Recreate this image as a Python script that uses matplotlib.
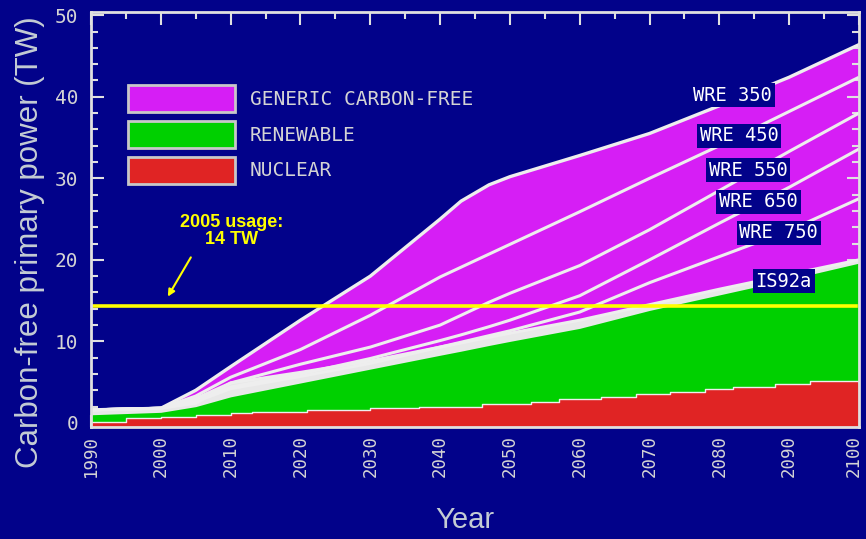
import matplotlib
matplotlib.use("Agg")
import matplotlib.pyplot as plt
from matplotlib.patches import Rectangle
from matplotlib.transforms import ScaledTranslation

# ---------------- data ----------------
years = [1990, 2000, 2005, 2010, 2020, 2030, 2040, 2043, 2047, 2050, 2060, 2070, 2080, 2090, 2100]
wre350 = [1.6, 1.8, 4.0, 6.9, 12.6, 18.0, 25.0, 27.2, 29.2, 30.2, 32.8, 35.5, 38.9, 42.4, 46.4]
wre450 = [1.6, 1.8, 3.3, 5.6, 9.0, 13.2, 17.9, 19.1, 20.7, 21.9, 25.9, 30.0, 34.0, 38.2, 42.4]
wre550 = [1.6, 1.8, 3.0, 4.9, 7.2, 9.3, 12.0, 13.2, 14.8, 15.9, 19.3, 23.7, 28.5, 33.3, 38.0]
wre650 = [1.6, 1.8, 2.8, 4.4, 6.0, 7.9, 10.1, 10.8, 11.8, 12.6, 15.6, 20.0, 24.5, 28.9, 33.6]
wre750 = [1.6, 1.8, 2.6, 4.2, 5.7, 7.3, 9.3, 9.9, 10.7, 11.3, 13.6, 17.2, 20.4, 23.6, 27.5]
is92a = [1.6, 1.8, 2.4, 4.9, 6.2, 7.6, 9.3, 9.8, 10.5, 11.0, 12.6, 14.5, 16.4, 18.2, 20.0]
renewable_top = [1.0, 1.3, 2.0, 3.2, 4.9, 6.6, 8.3, 8.8, 9.5, 10.0, 11.6, 13.8, 15.7, 17.6, 19.6]

nuc_years = [1990, 1995, 2000, 2005, 2010, 2013, 2021, 2030, 2037, 2046, 2053, 2057,
             2063, 2068, 2073, 2078, 2082, 2088, 2093, 2100]
nuclear = [0.16, 0.57, 0.75, 0.95, 1.2, 1.3, 1.6, 1.8, 2.0, 2.3, 2.6, 2.9,
           3.2, 3.6, 3.8, 4.1, 4.4, 4.8, 5.1, 5.1]

scenario_labels = ["WRE 350", "WRE 450", "WRE 550", "WRE 650", "WRE 750", "IS92a"]
label_x = [2081.9, 2082.8, 2084.1, 2085.6, 2088.5, 2089.2]
label_y = [40.2, 35.2, 31.0, 27.1, 23.3, 17.4]

legend_labels = ["GENERIC CARBON-FREE", "RENEWABLE", "NUCLEAR"]

usage_level = 14.4
usage_span = [1990, 2099.6]
usage_text = "2005 usage:\n14 TW"

x_ticks = list(range(1990, 2101, 10))
y_ticks = list(range(0, 51, 10))

# ---------------- style ----------------
NAVY = "#02028a"
MAGENTA = "#d61ef5"
GREEN = "#00d000"
RED = "#e02424"
BAND = "#e8e8e8"
LINE = "#eeeeee"
TXT = "#d4d4d4"
YEL = "#ffff00"

fig = plt.figure(figsize=(8.66, 5.39), dpi=100, facecolor=NAVY)
ax = fig.add_axes([91 / 866, 1 - 427 / 539, 768 / 866, 415 / 539])
ax.set_facecolor(NAVY)
ax.set_xlim(1990, 2100)
ax.set_ylim(-0.5, 50.4)

# stacked areas
ax.fill_between(years, -1, wre350, color=MAGENTA, lw=0, zorder=1)
ax.fill_between(years, -1, is92a, color=BAND, lw=0, zorder=2)
ax.fill_between(years, -1, renewable_top, color=GREEN, lw=0, zorder=3)
ax.fill_between(nuc_years, -1, nuclear, step="post", color=RED, lw=0, zorder=4)
ax.step(nuc_years, nuclear, where="post", color=LINE, lw=1.0, zorder=4.5)

# scenario curves
for series in (wre450, wre550, wre650, wre750, is92a):
    ax.plot(years, series, color=LINE, lw=2.2, zorder=2.5, solid_capstyle="butt")
ax.plot(years, wre350, color=LINE, lw=2.4, zorder=2.6)

# scenario labels
for lab, lx, ly in zip(scenario_labels, label_x, label_y):
    ax.text(lx, ly, lab, ha="center", va="center", color="white",
            family="DejaVu Sans Mono", fontsize=13.5, zorder=6,
            bbox=dict(boxstyle="square,pad=0.15", fc=NAVY, ec="none"))

# 2005 usage line
ax.plot(usage_span, [usage_level, usage_level], color=YEL, lw=2.6, zorder=7)
ax.text(2010.1, 23.6, usage_text, ha="center", va="center", color=YEL,
        fontsize=13, fontweight="bold", family="Liberation Sans", zorder=7,
        linespacing=1.0)
ax.annotate("", xy=(2000.8, 15.2), xytext=(2004.5, 20.6),
            arrowprops=dict(arrowstyle="-|>", color=YEL, lw=1.5, mutation_scale=10),
            zorder=7)

# legend
leg_colors = [MAGENTA, GREEN, RED]
box_y = [0.759, 0.672, 0.586]
for lab, col, by in zip(legend_labels, leg_colors, box_y):
    ax.add_patch(Rectangle((0.048, by), 0.139, 0.065, transform=ax.transAxes,
                           fc=col, ec="#c8c8c8", lw=2.0, zorder=8))
    ax.text(0.207, by + 0.031, lab, transform=ax.transAxes, ha="left", va="center",
            color=TXT, family="DejaVu Sans Mono", fontsize=14, zorder=8)

# axes, ticks
for sp in ax.spines.values():
    sp.set_color("#e0e0e0")
    sp.set_linewidth(2.0)
    sp.set_zorder(9)
ax.set_xticks(x_ticks)
ax.set_xticks(list(range(1995, 2100, 10)), minor=True)
ax.set_yticks(y_ticks)
ax.set_yticks([v for v in range(0, 51, 2) if v % 10], minor=True)
ax.set_xticklabels([str(v) for v in x_ticks], rotation=90, family="DejaVu Sans Mono",
                   fontsize=12.5, color=TXT)
ax.set_yticklabels([str(v) for v in y_ticks], family="DejaVu Sans Mono",
                   fontsize=14, color=TXT)
ax.tick_params(which="both", direction="in", top=True, right=True,
               color="#e0e0e0", width=1.5)
ax.tick_params(which="major", length=9)
ax.tick_params(which="minor", length=5)
ax.tick_params(axis="y", which="major", pad=9)
ax.tick_params(axis="x", which="major", pad=6)
last = ax.get_xticklabels()[-1]
last.set_transform(last.get_transform() + ScaledTranslation(-5 / 100, 0, fig.dpi_scale_trans))

fig.text(30 / 866, 1 - 242 / 539, "Carbon-free primary power (TW)", rotation=90,
         ha="center", va="center", color="#c4ccd4", fontsize=22.5, family="Liberation Sans")
fig.text(465 / 866, 1 - 520 / 539, "Year", ha="center", va="center",
         color="#c4ccd4", fontsize=21, family="Liberation Sans")

fig.savefig("out.png", dpi=100, facecolor=NAVY)
